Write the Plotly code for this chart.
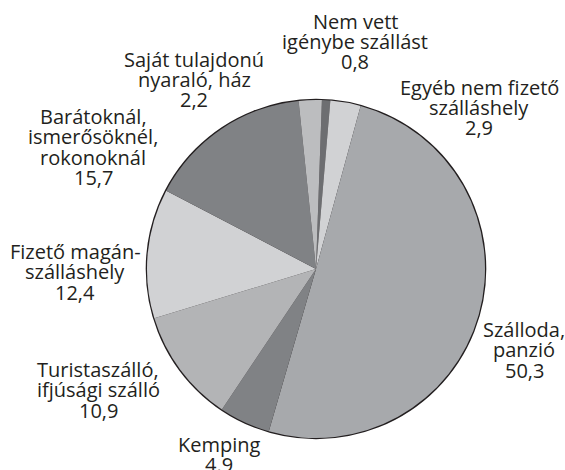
import plotly.graph_objects as go

names = ["Nem vett", "Egyéb nem fizető", "Szálloda", "Kemping", "Turistaszálló",
         "Fizető magán", "Barátoknál", "Saját tulajdonú"]
label_lines = [["Nem vett", "igénybe szállást"], ["Egyéb nem fizető", "szálláshely"],
               ["Szálloda,", "panzió"], ["Kemping"], ["Turistaszálló,", "ifjúsági szálló"],
               ["Fizető magán-", "szálláshely"], ["Barátoknál,", "ismerősöknél,", "rokonoknál"],
               ["Saját tulajdonú", "nyaraló, ház"]]
values = [0.8, 2.9, 50.3, 4.9, 10.9, 12.4, 15.7, 2.2]
value_text = ["0,8", "2,9", "50,3", "4.9", "10,9", "12,4", "15,7", "2,2"]
colors = ["#6d6e71", "#d1d2d4", "#a7a9ac", "#808285", "#b3b4b6", "#d1d2d4", "#808285", "#bcbdbf"]
# label block: center x and baseline of first line (pixels), line step
label_pos = [(355, 29), (479, 95), (524, 337), (219, 452), (98, 377), (75, 259), (93, 124), (194, 67)]
line_step = 20.5

W, H = 565, 470
cx, cy, r = 316, 269, 169
dom_x = [(cx - r) / W, (cx + r) / W]
dom_y = [(H - cy - r) / H, (H - cy + r) / H]

fig = go.Figure()
# outline underlay (only the outer rim stays visible)
fig.add_trace(go.Pie(values=[1], labels=["outline"], sort=False, textinfo="none", hoverinfo="skip",
                     marker=dict(colors=["#231f20"], line=dict(color="#231f20", width=2.6)),
                     showlegend=False, domain=dict(x=dom_x, y=dom_y)))
fig.add_trace(go.Pie(
    labels=names, values=values, sort=False, direction="clockwise", rotation=2,
    marker=dict(colors=colors, line=dict(width=0)), textinfo="none",
    hoverinfo="label+value", showlegend=False,
    domain=dict(x=dom_x, y=dom_y)))

font = dict(family="Open Sans", size=20, color="#231f20")
for lines, vt, (px, py) in zip(label_lines, value_text, label_pos):
    for i, t in enumerate(lines + [vt]):
        base = py + i * line_step
        fig.add_annotation(x=px / W, y=1 - (base - 8) / H, xref="paper", yref="paper", text=t,
                           showarrow=False, align="center", xanchor="center", yanchor="middle",
                           font=font)

fig.update_layout(width=W, height=H, margin=dict(l=0, r=0, t=0, b=0),
                  paper_bgcolor="white", plot_bgcolor="white")
fig.write_html("out.html", post_script="document.body.style.margin='0';",
               config={"displayModeBar": False})
